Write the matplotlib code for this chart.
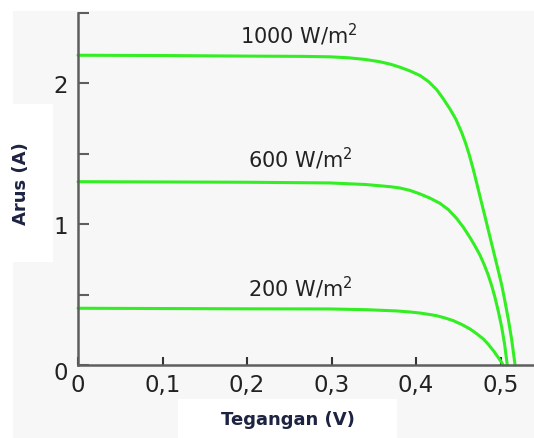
import matplotlib
matplotlib.use("Agg")
import matplotlib.pyplot as plt
from matplotlib.patches import Rectangle
from matplotlib.transforms import ScaledTranslation

# I-V curves (voltage in V, current in A)
V_1000 = [0, 0.1, 0.2, 0.265, 0.298, 0.320, 0.340, 0.357, 0.370, 0.381, 0.393, 0.405,
          0.415, 0.4245, 0.432, 0.4402, 0.4472, 0.4541, 0.4585, 0.4629, 0.4677,
          0.4725, 0.4771, 0.4817, 0.4866, 0.4915, 0.4965, 0.5014, 0.5053, 0.5092,
          0.5132, 0.5172]
I_1000 = [2.200, 2.198, 2.194, 2.192, 2.189, 2.182, 2.170, 2.154, 2.136, 2.115, 2.088, 2.055,
          2.012, 1.955, 1.893, 1.818, 1.745, 1.650, 1.578, 1.495, 1.390,
          1.275, 1.163, 1.052, 0.932, 0.812, 0.690, 0.568, 0.450, 0.325,
          0.180, 0.0]

V_600 = [0, 0.1, 0.2, 0.298, 0.340, 0.357, 0.370, 0.381, 0.393, 0.4047, 0.4165, 0.4284,
         0.4383, 0.4482, 0.456, 0.4639, 0.4698, 0.4757, 0.4807, 0.4856, 0.4896, 0.4935,
         0.4975, 0.5014, 0.5047, 0.508]
I_600 = [1.302, 1.300, 1.298, 1.293, 1.282, 1.273, 1.266, 1.257, 1.240, 1.215, 1.185, 1.148,
         1.103, 1.040, 0.978, 0.905, 0.845, 0.780, 0.712, 0.636, 0.562, 0.478,
         0.378, 0.268, 0.152, 0.0]

V_200 = [0, 0.1, 0.2, 0.298, 0.340, 0.377, 0.392, 0.4047, 0.4146, 0.4245, 0.4343,
         0.4441, 0.454, 0.4639, 0.4718, 0.4796, 0.4855, 0.4915, 0.4965, 0.5014, 0.503]
I_200 = [0.403, 0.401, 0.399, 0.398, 0.393, 0.384, 0.377, 0.369, 0.360, 0.350, 0.334,
         0.315, 0.288, 0.256, 0.222, 0.185, 0.147, 0.102, 0.060, 0.018, 0.0]

CURVE_LABELS = ["1000 W/m$^{2}$", "600 W/m$^{2}$", "200 W/m$^{2}$"]
LABEL_POS = [(0.261, 2.29), (0.263, 1.41), (0.263, 0.49)]

X_TICKS = [0, 0.1, 0.2, 0.3, 0.4, 0.5]
X_TICK_LABELS = ["0", "0,1", "0,2", "0,3", "0,4", "0,5"]
Y_TICKS = [0, 1, 2]
Y_MINOR = [0.5, 1.5, 2.5]

GREEN = "#33ee22"
BG = "#f7f7f7"

plt.rcParams["font.family"] = ["DejaVu Sans"]
plt.rcParams["mathtext.default"] = "regular"

fig = plt.figure(figsize=(5.34, 4.39), dpi=100, facecolor=BG)

# white patches around the grey picture
for x0, y0, w, h in [(0, 0.9727, 1, 0.03), (0, 0, 0.0243, 1),
                     (0, 0.4009, 0.0993, 0.3599), (0.3333, 0, 0.4101, 0.0888)]:
    fig.patches.append(Rectangle((x0, y0), w, h, transform=fig.transFigure,
                                 facecolor="white", edgecolor="none", zorder=0))

ax = fig.add_axes([0.1461, 0.1663, 0.8539, 0.8018])
ax.set_facecolor("none")

for v, i in [(V_1000, I_1000), (V_600, I_600), (V_200, I_200)]:
    ax.plot(v, i, color=GREEN, lw=2.2, solid_capstyle="round",
            solid_joinstyle="round", clip_on=False)

for text, (x, y) in zip(CURVE_LABELS, LABEL_POS):
    ax.text(x, y, text, ha="center", va="baseline", fontsize=15, color="#222222")

ax.set_xlim(0, 0.5396)
ax.set_ylim(0, 2.5)

ax.spines["top"].set_visible(False)
ax.spines["right"].set_visible(False)
for side in ["left", "bottom"]:
    ax.spines[side].set_color("#5e5e5e")
    ax.spines[side].set_linewidth(1.8)

ax.set_xticks(X_TICKS)
ax.set_xticklabels(X_TICK_LABELS)
ax.set_yticks(Y_TICKS)
ax.set_yticks(Y_MINOR, minor=True)
ax.tick_params(axis="x", direction="in", length=6, width=1.5, color="#333333",
               labelsize=16.5, pad=6, labelcolor="#222222")
ax.tick_params(axis="y", which="both", direction="in", length=8, width=1.5,
               color="#5e5e5e", labelsize=16.5, pad=7, labelcolor="#222222")

# the y "0" sits a little lower in the original
lab0 = ax.get_yticklabels()[0]
lab0.set_transform(lab0.get_transform() + ScaledTranslation(0, -5 / 100, fig.dpi_scale_trans))

fig.text(21 / 534, 1 - 184 / 439, "Arus (A)", rotation=90, ha="center", va="center",
         fontsize=13, fontweight="bold", color="#1d2340")
fig.text(288 / 534, 1 - 420 / 439, "Tegangan (V)", ha="center", va="center",
         fontsize=13, fontweight="bold", color="#1d2340")

fig.savefig("out.png", dpi=100, facecolor=BG)
